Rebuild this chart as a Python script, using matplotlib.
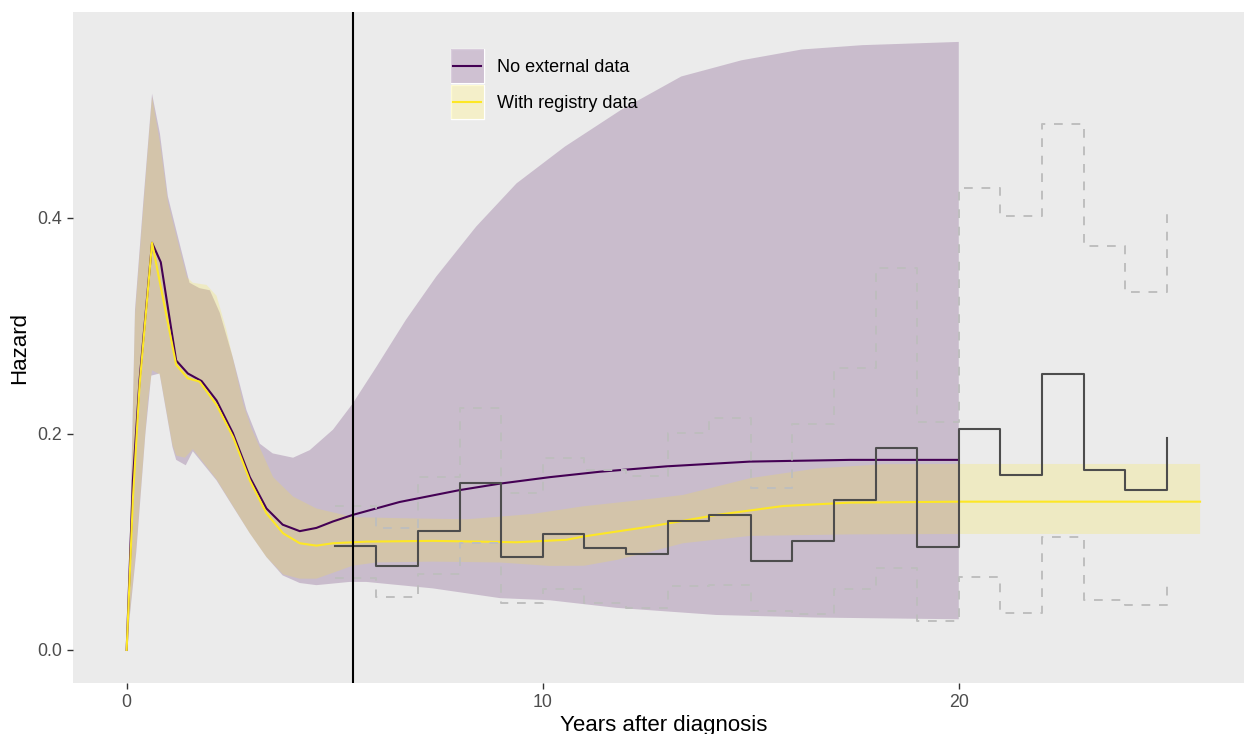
import numpy as np
import matplotlib.pyplot as plt
from matplotlib.patches import Rectangle
from matplotlib.lines import Line2D

plt.rcParams['font.family'] = ['Liberation Sans', 'DejaVu Sans']

PURPLE = '#440154'
YELLOW = '#FDE725'

# fitted hazard, no external data (to 20 years)
noext_x = [0, 0.15, 0.31, 0.61, 0.82, 1.19, 1.47, 1.80, 2.16, 2.55, 2.96, 3.36,
           3.75, 4.16, 4.56, 4.96, 5.43, 6.56, 8.0, 8.97, 10.17, 11.37, 12.97,
           14.98, 17.38, 20]
noext_haz = [0, 0.157, 0.25, 0.377, 0.359, 0.268, 0.256, 0.249, 0.231, 0.201,
             0.160, 0.131, 0.116, 0.110, 0.113, 0.119, 0.125, 0.137, 0.148,
             0.154, 0.160, 0.165, 0.170, 0.1744, 0.176, 0.176]

noext_up_x = [0, 0.1, 0.2, 0.4, 0.61, 0.8, 0.99, 1.19, 1.51, 1.75, 2.0, 2.24,
              2.55, 2.88, 3.2, 3.51, 4.0, 4.4, 4.96, 5.43, 6.0, 6.71, 7.44,
              8.40, 9.37, 10.53, 11.88, 13.33, 14.78, 16.23, 17.68, 20]
noext_up = [0, 0.14, 0.315, 0.415, 0.515, 0.478, 0.42, 0.389, 0.34, 0.335,
            0.333, 0.312, 0.271, 0.222, 0.191, 0.182, 0.178, 0.185, 0.204,
            0.228, 0.262, 0.3056, 0.3457, 0.392, 0.432, 0.466, 0.50, 0.531,
            0.546, 0.556, 0.560, 0.563]

noext_lo_x = [0, 0.03, 0.23, 0.45, 0.59, 0.79, 1.1, 1.19, 1.42, 1.59, 2.16,
              2.55, 2.96, 3.36, 3.75, 4.16, 4.56, 5.36, 5.76, 7.36, 8.97,
              10.17, 11.77, 14.17, 16.58, 20]
noext_lo = [0, 0.014, 0.09, 0.2, 0.254, 0.256, 0.188, 0.176, 0.171, 0.184,
            0.157, 0.133, 0.108, 0.086, 0.069, 0.062, 0.060, 0.063, 0.063,
            0.057, 0.048, 0.046, 0.039, 0.0324, 0.030, 0.0284]

# fitted hazard with registry data (constant after 20 years)
reg_x = [0, 0.15, 0.31, 0.61, 1.19, 1.47, 1.75, 2.16, 2.56, 2.96, 3.36, 3.76,
         4.16, 4.56, 4.96, 5.76, 7.36, 8.97, 9.37, 10.57, 10.97, 12.57, 14.18,
         15.78, 17.38, 20, 25.8]
reg_haz = [0, 0.14, 0.245, 0.377, 0.264, 0.2515, 0.2485, 0.227, 0.197, 0.157,
           0.1265, 0.108, 0.0988, 0.0966, 0.0988, 0.1003, 0.101, 0.100, 0.0997,
           0.102, 0.105, 0.1142, 0.125, 0.1333, 0.1364, 0.1373, 0.1373]

reg_up_x = [0, 0.1, 0.2, 0.4, 0.61, 0.8, 0.99, 1.19, 1.45, 1.59, 1.92, 2.16,
            2.4, 2.6, 2.8, 3.0, 3.25, 3.52, 4.0, 4.56, 5.44, 6.56, 8.17, 9.0,
            9.77, 10.97, 12.17, 13.37, 14.98, 16.58, 18.18, 20, 25.8]
reg_up = [0, 0.13, 0.31, 0.41, 0.512, 0.47, 0.415, 0.384, 0.345, 0.34, 0.338,
          0.328, 0.296, 0.262, 0.228, 0.205, 0.183, 0.160, 0.142, 0.131, 0.123,
          0.122, 0.121, 0.1235, 0.126, 0.133, 0.138, 0.1435, 0.159, 0.168,
          0.172, 0.1722, 0.1722]

reg_lo_x = [0, 0.03, 0.23, 0.51, 0.61, 0.8, 1.1, 1.19, 1.4, 1.59, 2.16, 2.56,
            2.96, 3.36, 3.76, 4.16, 4.56, 5.0, 5.43, 6.0, 7.36, 8.97, 10.17,
            11.0, 11.77, 12.6, 13.37, 14.98, 17.38, 20, 25.8]
reg_lo = [0, 0.016, 0.096, 0.231, 0.259, 0.255, 0.19, 0.18, 0.178, 0.186,
          0.158, 0.133, 0.108, 0.086, 0.07, 0.066, 0.066, 0.072, 0.078, 0.081,
          0.0818, 0.081, 0.0778, 0.078, 0.0833, 0.091, 0.0988, 0.1056, 0.107,
          0.1074, 0.1074]

# observed yearly hazards with interval limits
years = list(range(5, 26))
obs_haz = [0.0963, 0.0778, 0.110, 0.155, 0.086, 0.107, 0.094, 0.089, 0.119,
           0.125, 0.082, 0.101, 0.139, 0.187, 0.0957, 0.2043, 0.1623, 0.2556,
           0.1667, 0.1485, 0.196]
obs_up = [0.133, 0.1127, 0.160, 0.224, 0.145, 0.1775, 0.1667, 0.161, 0.2006,
          0.215, 0.1497, 0.209, 0.261, 0.354, 0.211, 0.4277, 0.4019, 0.4867,
          0.374, 0.331, 0.405]
obs_lo = [0.0664, 0.0494, 0.0704, 0.0994, 0.0432, 0.0562, 0.0432, 0.0386,
          0.0596, 0.0602, 0.0361, 0.033, 0.0562, 0.0763, 0.0269, 0.0679,
          0.0346, 0.1049, 0.0463, 0.0414, 0.0648]

data_cutoff = 5.43


def band(ax, xu, yu, xl, yl, color):
    px = np.concatenate([xu, xl[::-1]])
    py = np.concatenate([yu, yl[::-1]])
    ax.fill(px, py, color=color, alpha=0.2, lw=0)


class RibbonKey:
    """ggplot-like key: grey box, translucent fill, line through the middle."""
    def __init__(self, color):
        self.color = color

    def legend_artist(self, legend, orig_handle, fontsize, handlebox):
        x0, y0 = -handlebox.xdescent, -handlebox.ydescent
        w, h = handlebox.width, handlebox.height
        tr = handlebox.get_transform()
        bg = Rectangle((x0, y0), w, h, facecolor='#F2F2F2', edgecolor='white',
                       lw=1, transform=tr)
        fill = Rectangle((x0, y0), w, h, facecolor=self.color, alpha=0.2,
                         lw=0, transform=tr)
        line = Line2D([x0 + 2, x0 + w - 2], [y0 + h / 2, y0 + h / 2],
                      color=self.color, lw=1.5, transform=tr)
        for a in (bg, fill, line):
            handlebox.add_artist(a)
        return fill


fig = plt.figure(figsize=(12.44, 7.34), dpi=100)
ax = fig.add_axes([73 / 1244, 51 / 734, 1182 / 1244, 671 / 734])
ax.set_facecolor('#EBEBEB')

band(ax, np.array(noext_up_x), np.array(noext_up),
     np.array(noext_lo_x), np.array(noext_lo), PURPLE)
band(ax, np.array(reg_up_x), np.array(reg_up),
     np.array(reg_lo_x), np.array(reg_lo), YELLOW)

ax.plot(noext_x, noext_haz, color=PURPLE, lw=1.5, solid_joinstyle='round')
ax.plot(reg_x, reg_haz, color=YELLOW, lw=1.5, solid_joinstyle='round')

dash = dict(color='#BEBEBE', lw=1.4, dashes=(4.5, 4.5), where='post')
ax.step(years, obs_up, **dash)
ax.step(years, obs_lo, **dash)
ax.step(years, obs_haz, where='post', color='#4D4D4D', lw=1.5)

ax.axvline(data_cutoff, color='black', lw=1.5)

ax.set_xlim(-1.29, 27.12)
ax.set_ylim(-0.0306, 0.5907)
ax.set_xticks([0, 10, 20])
ax.set_yticks([0.0, 0.2, 0.4])
ax.set_yticklabels(['0.0', '0.2', '0.4'])
ax.tick_params(length=4.5, width=1, color='#333333', labelcolor='#4D4D4D',
               labelsize=12.8, pad=3.5)
for s in ax.spines.values():
    s.set_visible(False)

ax.set_xlabel('Years after diagnosis', fontsize=16, labelpad=2.5)
ax.set_ylabel('Hazard', fontsize=16, labelpad=5)

h_noext = object()
h_reg = object()
ax.legend([h_noext, h_reg], ['No external data', 'With registry data'],
          handler_map={h_noext: RibbonKey(PURPLE), h_reg: RibbonKey(YELLOW)},
          loc='upper left', bbox_to_anchor=(0.3194, 0.9444), frameon=False,
          fontsize=13, borderpad=0, borderaxespad=0, handlelength=1.83,
          handleheight=2.53, labelspacing=0.1, handletextpad=0.72)

fig.savefig('out.png', dpi=100)
